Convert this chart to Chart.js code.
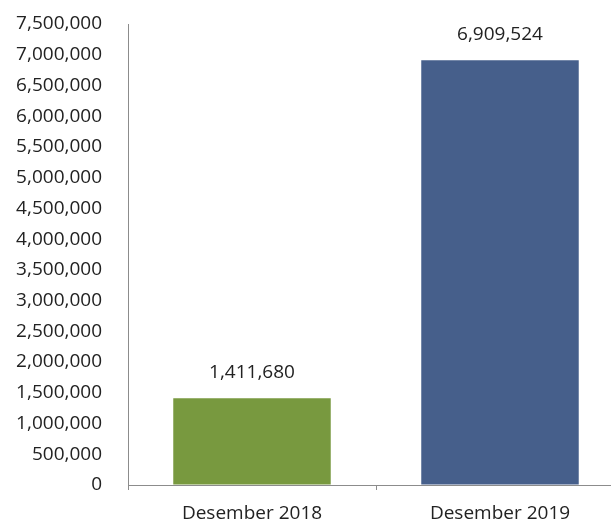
<!DOCTYPE html>
<html>
<head>
<meta charset="utf-8">
<script src="https://cdn.jsdelivr.net/npm/chart.js@4/dist/chart.umd.min.js"></script>
<style>
  html, body { margin: 0; padding: 0; background: #fff; overflow: hidden; }
</style>
</head>
<body>
<canvas id="chart" width="624" height="522"></canvas>
<script>
'use strict'
// kategori dan nilai
const labels = ['Desember 2018', 'Desember 2019'];
const values = [1411680, 6909524];
const barColors = ['#78993f', '#465f8b'];
const yMax = 7500000;
const yStep = 500000;

const fontFamily = '"Open Sans", "Noto Sans", sans-serif';
const fontSize = 19;

// angka di atas batang
const valueLabels = {
    id: 'valueLabels',
    afterDatasetsDraw(chart){
        const ctx = chart.ctx;
        const meta = chart.getDatasetMeta(0);
        ctx.save();
        ctx.font = fontSize + 'px ' + fontFamily;
        ctx.fillStyle = '#222';
        ctx.textAlign = 'center';
        ctx.textBaseline = 'middle';
        meta.data.forEach((bar, i) => {
            ctx.fillText(values[i].toLocaleString('en-US'), bar.x, bar.y - 26);
        });
        ctx.restore();
    }
};

new Chart(document.getElementById('chart'), {
    type: 'bar',
    data: {
        labels: labels,
        datasets: [{
            data: values,
            backgroundColor: barColors,
            categoryPercentage: 1,
            barPercentage: 0.635
        }]
    },
    options: {
        responsive: false,
        animation: false,
        layout: { padding: { top: 24, left: 0, right: 0, bottom: 0 } },
        plugins: {
            legend: { display: false },
            tooltip: { enabled: false }
        },
        scales: {
            x: {
                grid: {
                    display: true,
                    drawOnChartArea: false,
                    drawTicks: true,
                    tickLength: 5,
                    color: '#8c8c8c'
                },
                border: { display: true, color: '#8c8c8c', width: 1 },
                ticks: {
                    color: '#222',
                    padding: 12,
                    font: { family: fontFamily, size: fontSize }
                },
                afterFit(scale){ scale.height = 37; }
            },
            y: {
                min: 0,
                max: yMax,
                grid: {
                    display: true,
                    drawOnChartArea: false,
                    drawTicks: false
                },
                border: { display: true, color: '#8c8c8c', width: 1 },
                ticks: {
                    stepSize: yStep,
                    color: '#222',
                    padding: 26,
                    font: { family: fontFamily, size: fontSize },
                    callback: (v) => v.toLocaleString('en-US')
                },
                afterFit(scale){
                    scale.width = 128;
                    scale.paddingTop = 0;
                    scale.paddingBottom = 0;
                }
            }
        }
    },
    plugins: [valueLabels]
});
</script>
</body>
</html>
